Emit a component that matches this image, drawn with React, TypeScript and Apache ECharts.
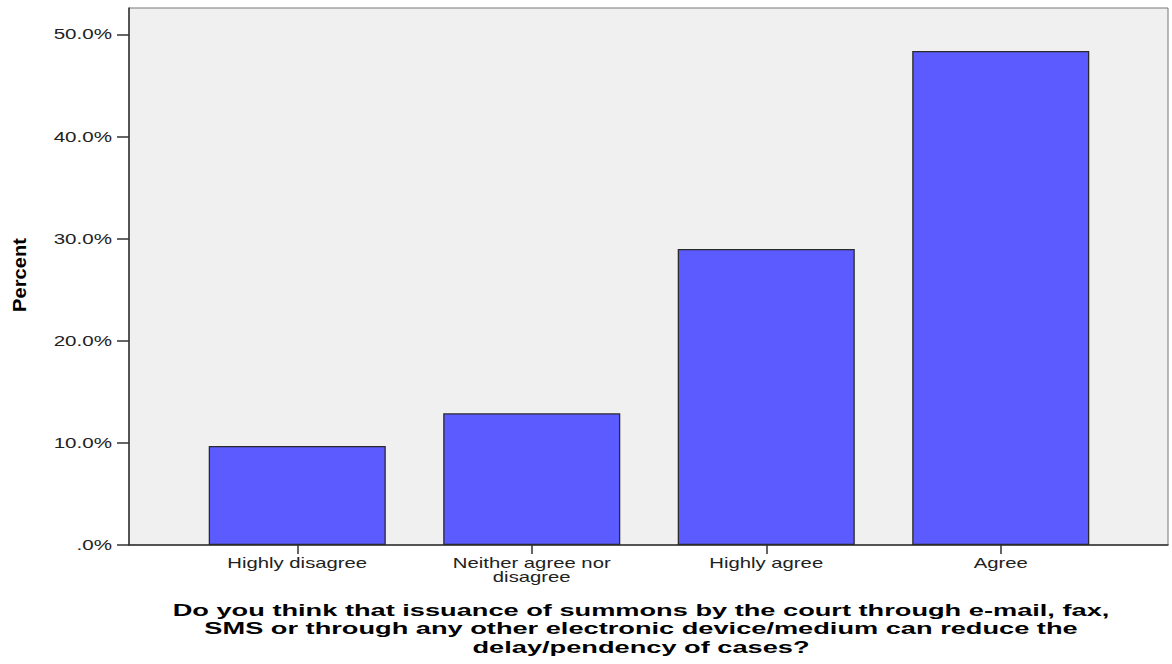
import React, { useEffect, useRef } from "react";
import * as echarts from "echarts";

const categories = ["Highly disagree", "Neither agree nor\ndisagree", "Highly agree", "Agree"];
const percentValues = [9.7, 12.9, 29.0, 48.4];
const yTicks = [0, 10, 20, 30, 40, 50];
const yTickLabels = [".0%", "10.0%", "20.0%", "30.0%", "40.0%", "50.0%"];
const yAxisTitle = "Percent";
const xAxisTitle =
  "Do you think that issuance of summons by the court through e-mail, fax,\nSMS or through any other electronic device/medium can reduce the\ndelay/pendency of cases?";

export default function App() {
  const ref = useRef<HTMLDivElement>(null);
  useEffect(() => {
    document.body.style.margin = "0";
    const chart = echarts.init(ref.current!, null, { renderer: "svg" });
    const font = "'Liberation Sans', Arial, sans-serif";
    const axisDark = "#333";
    chart.setOption({
      animation: false,
      grid: [
        {
          left: 129, right: 4, top: 8, bottom: 119,
          show: true, backgroundColor: "#f0f0f0", borderColor: "#777", borderWidth: 1,
        },
        { left: 180, right: 54, top: 8, bottom: 119 },
      ],
      xAxis: [
        {
          gridIndex: 0, type: "value", min: 0, max: 1,
          axisLine: { show: true, lineStyle: { color: axisDark, width: 1.5 } },
          axisTick: { show: false }, axisLabel: { show: false }, splitLine: { show: false },
        },
        {
          gridIndex: 1, type: "category", data: categories, boundaryGap: true,
          axisLine: { show: false },
          axisTick: { show: true, alignWithLabel: true, length: 9, lineStyle: { color: axisDark, width: 1.5 } },
          axisLabel: { show: false },
        },
      ],
      yAxis: [
        {
          gridIndex: 0, type: "value", min: 0, max: 1,
          axisLine: { show: true, lineStyle: { color: axisDark, width: 1.5 } },
          axisTick: { show: false }, axisLabel: { show: false }, splitLine: { show: false },
        },
        {
          gridIndex: 1, type: "value", min: 0, max: 52.6, interval: 10, offset: 51,
          axisLine: { show: false },
          axisTick: { show: true, length: 12, customValues: yTicks, lineStyle: { color: axisDark, width: 1.5 } },
          splitLine: { show: false },
          axisLabel: { show: false },
        },
      ],
      series: [
        {
          type: "bar", xAxisIndex: 1, yAxisIndex: 1, data: percentValues,
          barCategoryGap: "24.5%",
          itemStyle: { color: "#5b5bff", borderColor: "#2a2a2a", borderWidth: 1.3 },
        },
      ],
    });

    const xPix = categories.map((_, i) => chart.convertToPixel({ xAxisIndex: 1 }, i) as number);
    const yPix = yTicks.map((v) => chart.convertToPixel({ yAxisIndex: 1 }, v) as number);
    const baseY = yPix[0];

    const graphics: any[] = [];
    categories.forEach((c, i) => {
      graphics.push({
        type: "text", x: xPix[i], y: baseY + 11, scaleX: 1.45,
        style: {
          text: c, fill: "#222", fontFamily: font, fontSize: 14, lineHeight: 14,
          align: "center", verticalAlign: "top",
        },
      });
    });
    yTicks.forEach((v, i) => {
      graphics.push({
        type: "text", x: 112, y: yPix[i], scaleX: 1.42,
        style: {
          text: yTickLabels[i], fill: "#222", fontFamily: font, fontSize: 14.5,
          align: "right", verticalAlign: "middle",
        },
      });
    });
    graphics.push({
      type: "text", x: 20, y: 275, rotation: Math.PI / 2, scaleX: 1.12,
      style: {
        text: yAxisTitle, fill: "#000", fontFamily: font,
        fontWeight: "bold", fontSize: 18, align: "center", verticalAlign: "middle",
      },
    });
    graphics.push({
      type: "text", x: 641, y: 600, scaleX: 1.6,
      style: {
        text: xAxisTitle, fill: "#000", fontFamily: font, fontWeight: "bold",
        fontSize: 17, lineHeight: 19, align: "center", verticalAlign: "top",
      },
    });
    chart.setOption({ graphic: graphics });
    return () => chart.dispose();
  }, []);
  return <div ref={ref} style={{ width: 1172, height: 664 }} />;
}
